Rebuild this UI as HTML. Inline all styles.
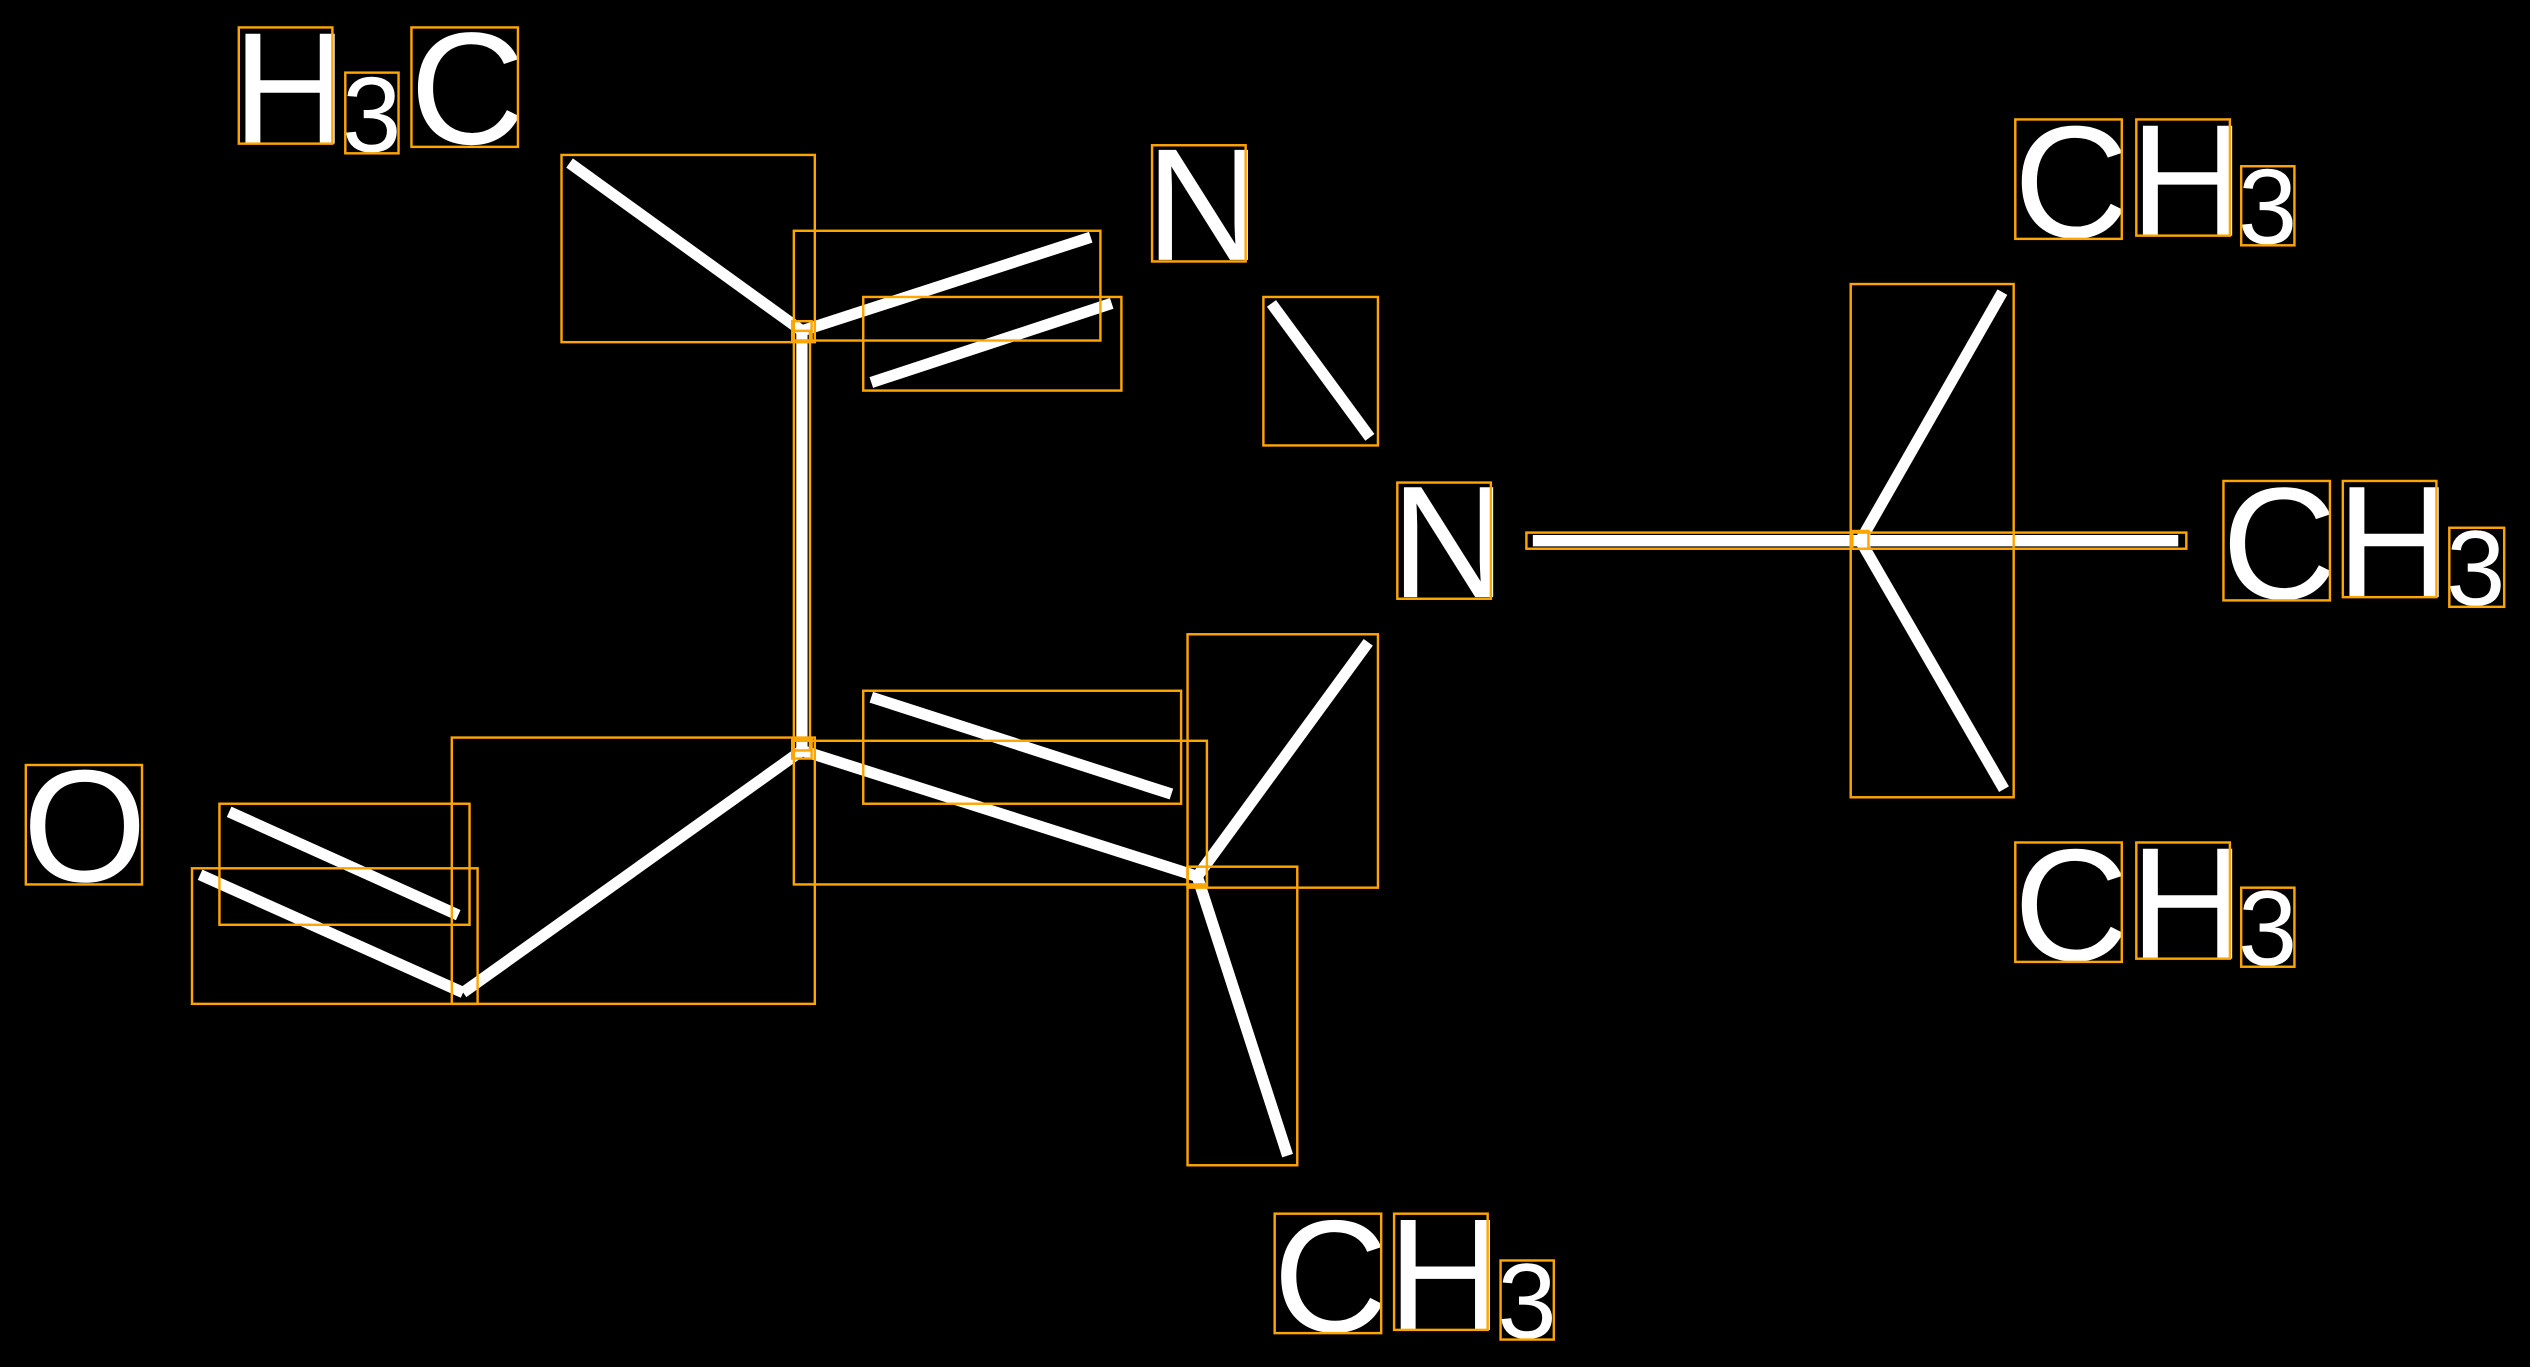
<!DOCTYPE html>
<html><head><meta charset="utf-8"><style>
html,body{margin:0;padding:0;background:#000;}
svg{display:block;}
text{font-family:"Liberation Sans",sans-serif;fill:#fff;}
</style></head><body>
<svg width="2530" height="1367" viewBox="0 0 1568 847" preserveAspectRatio="none" xmlns="http://www.w3.org/2000/svg">
<rect width="1568" height="847" fill="#000"/>
<g stroke="#fff" stroke-width="7" stroke-linecap="butt" fill="none">
<line x1="353" y1="101" x2="497" y2="205"/>
<line x1="497" y1="205" x2="676" y2="147"/>
<line x1="540" y1="237" x2="689" y2="188"/>
<line x1="497" y1="205" x2="497" y2="465"/>
<line x1="497" y1="465" x2="287" y2="615"/>
<line x1="287" y1="615" x2="124" y2="542"/>
<line x1="284" y1="567" x2="142" y2="503"/>
<line x1="497" y1="465" x2="742" y2="543"/>
<line x1="540" y1="432" x2="726" y2="492"/>
<line x1="742" y1="543" x2="848" y2="398"/>
<line x1="742" y1="543" x2="798" y2="716"/>
<line x1="788" y1="188" x2="849" y2="271"/>
<line x1="950" y1="335" x2="1350" y2="335"/>
<line x1="1153" y1="335" x2="1241" y2="181"/>
<line x1="1153" y1="335" x2="1242" y2="489"/>
</g>
<g font-size="99">
<text x="144" y="89">H</text><text x="254" y="89">C</text>
<text x="710" y="161">N</text>
<text x="862" y="370">N</text>
<text x="14" y="546">O</text>
<text x="1248" y="147">C</text><text x="1320" y="146">H</text>
<text x="1377" y="371">C</text><text x="1448" y="370">H</text>
<text x="1248" y="595">C</text><text x="1320" y="594">H</text>
<text x="789" y="825">C</text><text x="860" y="824">H</text>
</g>
<g font-size="66">
<text x="212" y="94">3</text>
<text x="1387" y="151">3</text>
<text x="1516" y="375">3</text>
<text x="1387" y="598">3</text>
<text x="928" y="829">3</text>
</g>
<g stroke="#FFA500" stroke-width="1.5" fill="none">
<rect x="148" y="17" width="58" height="72"/>
<rect x="214" y="45" width="33" height="50"/>
<rect x="255" y="17" width="66" height="74"/>
<rect x="348" y="96" width="157" height="116"/>
<rect x="492" y="143" width="190" height="68"/>
<rect x="535" y="184" width="160" height="58"/>
<rect x="491" y="199" width="12" height="12"/>
<rect x="491" y="458" width="12" height="12"/>
<rect x="492" y="205" width="10" height="260"/>
<rect x="714" y="90" width="58" height="72"/>
<rect x="783" y="184" width="71" height="92"/>
<rect x="866" y="299" width="58" height="72"/>
<rect x="946" y="330" width="409" height="10"/>
<rect x="1147" y="176" width="101" height="318"/>
<rect x="1148" y="329" width="10" height="11"/>
<rect x="1249" y="74" width="66" height="74"/>
<rect x="1324" y="74" width="58" height="72"/>
<rect x="1389" y="103" width="33" height="49"/>
<rect x="1378" y="298" width="66" height="74"/>
<rect x="1452" y="298" width="58" height="72"/>
<rect x="1518" y="327" width="34" height="49"/>
<rect x="1249" y="522" width="66" height="74"/>
<rect x="1324" y="522" width="58" height="72"/>
<rect x="1389" y="550" width="33" height="49"/>
<rect x="790" y="752" width="66" height="74"/>
<rect x="864" y="752" width="58" height="72"/>
<rect x="930" y="781" width="33" height="49"/>
<rect x="16" y="474" width="72" height="74"/>
<rect x="136" y="498" width="155" height="75"/>
<rect x="119" y="538" width="177" height="84"/>
<rect x="280" y="457" width="225" height="165"/>
<rect x="535" y="428" width="197" height="70"/>
<rect x="492" y="459" width="256" height="89"/>
<rect x="736" y="393" width="118" height="157"/>
<rect x="736" y="537" width="68" height="185"/>
<rect x="736" y="537" width="12" height="12"/>
</g>
</svg>
</body></html>
